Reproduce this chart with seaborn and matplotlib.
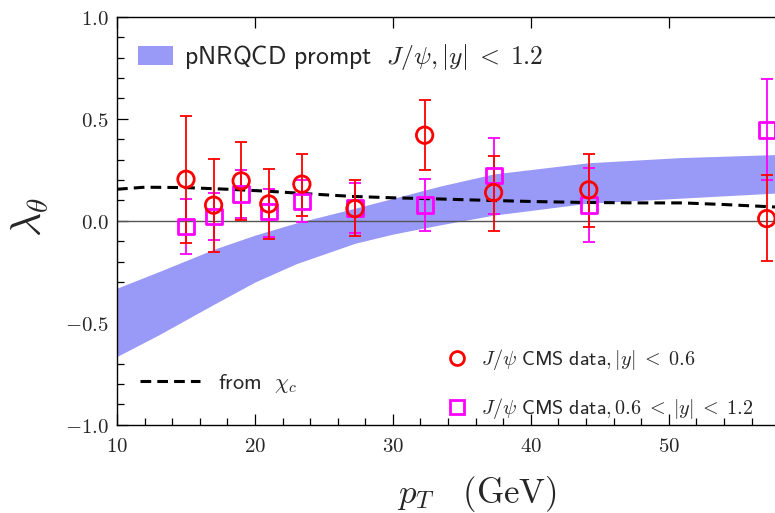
import numpy as np
import matplotlib
matplotlib.use("Agg")
import matplotlib.pyplot as plt
from matplotlib.lines import Line2D
from matplotlib.patches import Patch
from matplotlib.ticker import MultipleLocator, FixedLocator, FixedFormatter
import seaborn as sns
import pandas as pd

# ---------------- data ----------------
pt_c = [15.0, 17.0, 19.0, 21.0, 23.4, 27.25, 32.3, 37.3, 44.2, 57.1]
lam_c = [0.204, 0.077, 0.196, 0.083, 0.180, 0.060, 0.420, 0.139, 0.152, 0.011]
lam_c_hi = [0.516, 0.304, 0.387, 0.255, 0.330, 0.198, 0.593, 0.320, 0.330, 0.225]
lam_c_lo = [-0.108, -0.152, 0.003, -0.087, 0.026, -0.073, 0.251, -0.048, -0.028, -0.198]

pt_s = [15.0, 17.0, 19.0, 21.0, 23.4, 27.25, 32.3, 37.3, 44.2, 57.1]
lam_s = [-0.028, 0.021, 0.131, 0.046, 0.095, 0.062, 0.078, 0.222, 0.078, 0.446]
lam_s_hi = [0.109, 0.139, 0.250, 0.158, 0.200, 0.188, 0.204, 0.405, 0.261, 0.695]
lam_s_lo = [-0.163, -0.093, 0.013, -0.077, -0.008, -0.062, -0.052, 0.034, -0.105, 0.200]

chi_pt = [10, 12, 15, 18, 21, 24, 27, 30, 33, 36, 40, 44, 48, 51, 54, 57.7]
chi_lam = [0.155, 0.165, 0.163, 0.155, 0.145, 0.132, 0.120, 0.113, 0.108, 0.102,
           0.095, 0.090, 0.088, 0.088, 0.080, 0.068]

band_pt = [10, 13, 17, 20, 23, 27.25, 30, 33.4, 37.3, 44.2, 50.8, 57.7]
band_lo = [-0.665, -0.56, -0.41, -0.30, -0.21, -0.11, -0.065, -0.02, 0.028, 0.087, 0.111, 0.136]
band_hi = [-0.33, -0.25, -0.14, -0.07, -0.01, 0.062, 0.11, 0.17, 0.23, 0.285, 0.31, 0.325]

xticks = [10, 20, 30, 40, 50]
yticks = [-1.0, -0.5, 0.0, 0.5, 1.0]

# ---------------- style ----------------
sns.set_theme(style="ticks")
plt.rcParams["font.family"] = ["DejaVu Sans"]
plt.rcParams["mathtext.fontset"] = "cm"

red = "#ff0000"
mag = "#ff00ff"
band_col = "#9999f7"

fig = plt.figure(figsize=(7.75, 5.13), dpi=100)
ax = fig.add_axes([0.151, 0.172, 0.849, 0.795])

ax.fill_between(band_pt, band_lo, band_hi, color=band_col, lw=0, zorder=1)
ax.axhline(0, color="#555555", lw=1.0, zorder=2)

df_chi = pd.DataFrame({"pt": chi_pt, "lam": chi_lam})
sns.lineplot(data=df_chi, x="pt", y="lam", ax=ax, color="black", lw=2.2,
             dashes=False, zorder=3)
ax.lines[-1].set_dashes((3.5, 2.0))

pt_s_a = np.array(pt_s); ls = np.array(lam_s)
ax.errorbar(pt_s_a, ls, yerr=[ls - np.array(lam_s_lo), np.array(lam_s_hi) - ls],
            fmt="none", ecolor=mag, elinewidth=1.3, capsize=4.5, capthick=1.3, zorder=4)
pt_c_a = np.array(pt_c); lc = np.array(lam_c)
ax.errorbar(pt_c_a, lc, yerr=[lc - np.array(lam_c_lo), np.array(lam_c_hi) - lc],
            fmt="none", ecolor=red, elinewidth=1.3, capsize=4.5, capthick=1.3, zorder=4)

df_s = pd.DataFrame({"pt": pt_s, "lam": lam_s})
df_c = pd.DataFrame({"pt": pt_c, "lam": lam_c})
sns.scatterplot(data=df_s, x="pt", y="lam", ax=ax, marker="s", s=130,
                facecolor="none", edgecolor=mag, linewidth=2.0, zorder=5)
sns.scatterplot(data=df_c, x="pt", y="lam", ax=ax, marker="o", s=140,
                facecolor="none", edgecolor=red, linewidth=2.0, zorder=6)

ax.set_xlim(10, 57.7)
ax.set_ylim(-1.0, 1.0)

ax.xaxis.set_major_locator(FixedLocator(xticks))
ax.xaxis.set_major_formatter(FixedFormatter([r"$%d$" % t for t in xticks]))
ax.xaxis.set_minor_locator(MultipleLocator(2))
ax.yaxis.set_major_locator(FixedLocator(yticks))
ax.yaxis.set_major_formatter(FixedFormatter([r"$%.1f$" % t if t >= 0 else r"$-%.1f$" % -t for t in yticks]))
ax.yaxis.set_minor_locator(MultipleLocator(0.1))

ax.tick_params(which="both", direction="in", top=True, right=False, labelsize=15,
               color="black", width=0.9)
ax.tick_params(which="major", length=8)
ax.tick_params(axis="x", which="major", pad=8)
ax.tick_params(axis="y", which="major", pad=6)
ax.tick_params(which="minor", length=5, top=False)
for s in ["left", "bottom", "top"]:
    ax.spines[s].set_color("black")
    ax.spines[s].set_linewidth(1.0)
ax.spines["right"].set_visible(False)

ax.set_xlabel(r"$p_T\ \ \ \mathrm{(GeV)}$", fontsize=25)
ax.xaxis.set_label_coords(0.547, -0.12)
ax.set_ylabel(r"$\lambda_\theta$", fontsize=30)
ax.yaxis.set_label_coords(-0.10, 0.51)

# ---------------- legends ----------------
h1 = Patch(facecolor=band_col, edgecolor="none")
leg1 = ax.legend([h1], [r"$\mathsf{pNRQCD\ prompt}\ \ J/\psi, |y|\;<\;1.2$"], loc="upper left",
                 bbox_to_anchor=(0.016, 0.963), borderaxespad=0, frameon=False, fontsize=18.5,
                 handlelength=1.35, handleheight=0.8, handletextpad=0.45)
ax.add_artist(leg1)

h2 = Line2D([], [], color="black", lw=2.2, dashes=(3.5, 2.0))
leg2 = ax.legend([h2], [r"$\mathsf{from}\ \ \chi_c$"], loc="lower left",
                 bbox_to_anchor=(0.005, 0.025), frameon=False, fontsize=16,
                 handlelength=2.7, handletextpad=0.8)
ax.add_artist(leg2)

h3 = Line2D([], [], ls="none", marker="o", ms=10, mfc="none", mec=red, mew=2.0)
h4 = Line2D([], [], ls="none", marker="s", ms=10, mfc="none", mec=mag, mew=2.0)
leg3 = ax.legend([h3, h4], [r"$J/\psi\ \mathsf{CMS\ data}, |y|\;<\;0.6$",
                            r"$J/\psi\ \mathsf{CMS\ data}, 0.6\;<\;|y|\;<\;1.2$"],
                 loc="lower right", bbox_to_anchor=(0.995, -0.035), frameon=False,
                 fontsize=14.5, labelspacing=1.2, handletextpad=0.6, handlelength=1.2)

fig.savefig("out.png", dpi=100)
